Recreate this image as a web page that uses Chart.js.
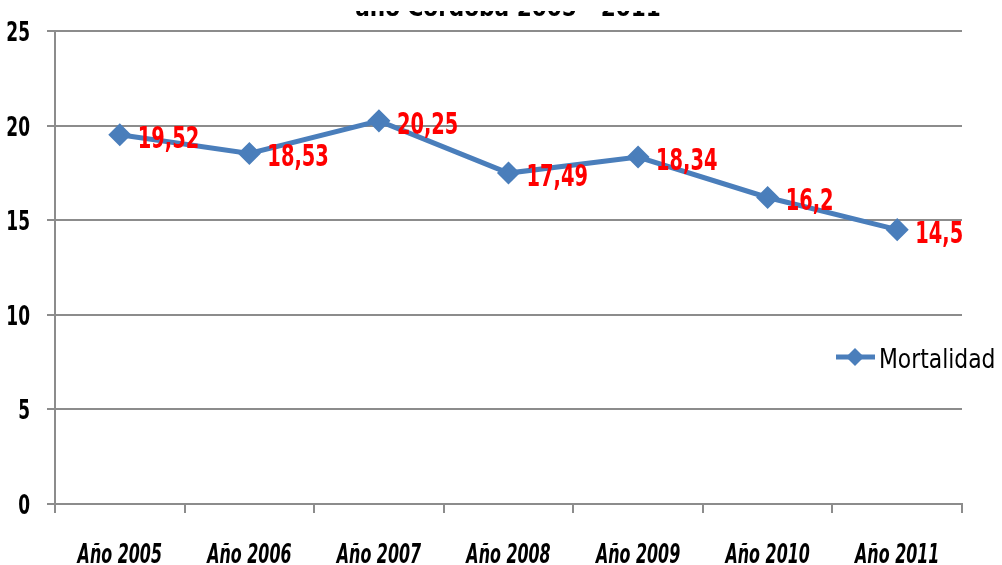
<!DOCTYPE html>
<html>
<head>
<meta charset="utf-8">
<script src="https://cdn.jsdelivr.net/npm/chart.js@4.4.0/dist/chart.umd.min.js"></script>
<style>
  html, body { margin: 0; padding: 0; background: #fff; }
  #wrap { position: relative; width: 1002px; height: 565px; overflow: hidden; }
  #title { position: absolute; left: 0; width: 1002px; top: -6px; text-align: center;
    font: bold 24px "DejaVu Sans Condensed", sans-serif; color: #000; padding-left: 14px; box-sizing: border-box; }
  #cover { position: absolute; left: 0; top: 0; width: 1002px; height: 11px; background: #fff; }
</style>
</head>
<body>
<div id="wrap">
  <canvas id="myChart" width="1002" height="565"></canvas>
  <div id="title">año Córdoba 2005 - 2011</div>
  <div id="cover"></div>
</div>
<script>
var categories = ['Año 2005', 'Año 2006', 'Año 2007', 'Año 2008', 'Año 2009', 'Año 2010', 'Año 2011'];
var mortalidad = [19.52, 18.53, 20.25, 17.49, 18.34, 16.2, 14.5];
var valueLabels = ['19,52', '18,53', '20,25', '17,49', '18,34', '16,2', '14,5'];
var seriesName = 'Mortalidad';

var narrow = '"DejaVu Sans Condensed", sans-serif';
var blue = '#4a7ebb';
var gridGray = '#8c8c8c';

// text squeezed horizontally, like the original picture
function drawText(ctx, text, x, y, font, align, sx) {
  ctx.save();
  ctx.font = font;
  ctx.textBaseline = 'alphabetic';
  var w = ctx.measureText(text).width * sx;
  var left = align === 'left' ? x : (align === 'right' ? x - w : x - w / 2);
  ctx.translate(left, y);
  ctx.scale(sx, 1);
  ctx.textAlign = 'left';
  ctx.fillText(text, 0, 0);
  ctx.restore();
}

var labelPlugin = {
  id: 'labels',
  afterDatasetsDraw: function(chart) {
    var ctx = chart.ctx;
    var meta = chart.getDatasetMeta(0);
    ctx.save();
    ctx.fillStyle = '#ff0000';
    meta.data.forEach(function(pt, i) {
      drawText(ctx, valueLabels[i], pt.x + 18, pt.y + 13, 'bold 30px ' + narrow, 'left', 0.72);
    });
    ctx.restore();
  },
  afterDraw: function(chart) {
    var ctx = chart.ctx;
    ctx.save();
    ctx.fillStyle = '#000';
    // y tick labels
    var ys = chart.scales.y;
    ys.ticks.forEach(function(t, i) {
      drawText(ctx, String(t.value), 30, ys.getPixelForTick(i) + 10, 'bold 27px ' + narrow, 'right', 0.7);
    });
    // x tick labels
    var xs = chart.scales.x;
    categories.forEach(function(c, i) {
      drawText(ctx, c, xs.getPixelForValue(i), 563, 'italic bold 26px ' + narrow, 'center', 0.68);
    });
    ctx.restore();

    // legend drawn over the plot, like the original
    var y = 357;
    ctx.save();
    ctx.strokeStyle = blue;
    ctx.lineWidth = 5;
    ctx.beginPath();
    ctx.moveTo(836, y);
    ctx.lineTo(875, y);
    ctx.stroke();
    ctx.fillStyle = blue;
    ctx.beginPath();
    ctx.moveTo(855, y - 9);
    ctx.lineTo(864, y);
    ctx.lineTo(855, y + 9);
    ctx.lineTo(846, y);
    ctx.closePath();
    ctx.fill();
    ctx.fillStyle = '#000';
    drawText(ctx, seriesName, 879, y + 11, '27px ' + narrow, 'left', 0.9);
    ctx.restore();
  }
};

var ctx = document.getElementById('myChart').getContext('2d');
var myChart = new Chart(ctx, {
  type: 'line',
  data: {
    labels: categories,
    datasets: [{
      label: seriesName,
      data: mortalidad,
      borderColor: blue,
      backgroundColor: blue,
      borderWidth: 5,
      pointStyle: 'rectRot',
      pointRadius: 8,
      pointBackgroundColor: blue,
      pointBorderColor: blue,
      tension: 0,
      fill: false
    }]
  },
  options: {
    responsive: false,
    animation: false,
    devicePixelRatio: 1,
    layout: { padding: { top: 31, right: 40, left: 0, bottom: 0 } },
    plugins: {
      legend: { display: false },
      title: { display: false },
      tooltip: { enabled: false }
    },
    scales: {
      x: {
        offset: true,
        grid: { offset: true, drawOnChartArea: false, drawTicks: true, tickLength: 9, color: gridGray, lineWidth: 2 },
        border: { color: gridGray, width: 2 },
        ticks: { display: false },
        afterFit: function(s) { s.height = 61; }
      },
      y: {
        min: 0,
        max: 25,
        ticks: { stepSize: 5, display: false },
        grid: { color: gridGray, lineWidth: 2, tickLength: 8 },
        border: { color: gridGray, width: 2 },
        afterFit: function(s) { s.width = 55; }
      }
    }
  },
  plugins: [labelPlugin]
});
</script>
</body>
</html>
